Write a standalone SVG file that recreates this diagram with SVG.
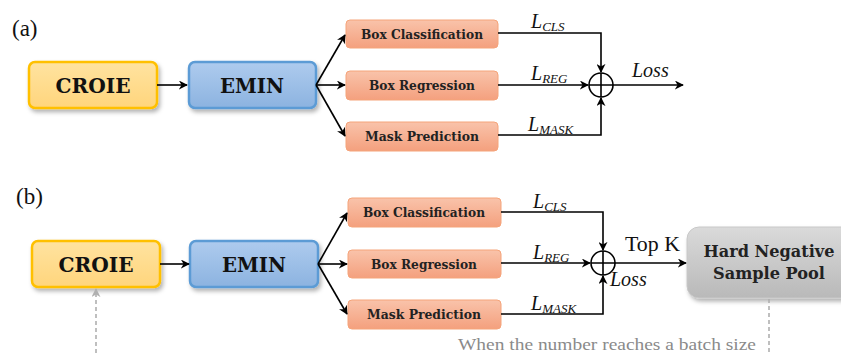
<svg xmlns="http://www.w3.org/2000/svg" width="841" height="353" viewBox="0 0 841 353">
<defs>
<linearGradient id="gY" x1="0" y1="0" x2="0" y2="1"><stop offset="0" stop-color="#FFE3A0"/><stop offset="1" stop-color="#FFD57C"/></linearGradient>
<linearGradient id="gB" x1="0" y1="0" x2="0" y2="1"><stop offset="0" stop-color="#AECBEE"/><stop offset="1" stop-color="#8CB3E0"/></linearGradient>
<linearGradient id="gO" x1="0" y1="0" x2="0" y2="1"><stop offset="0" stop-color="#F9C3AA"/><stop offset="1" stop-color="#F4A07E"/></linearGradient>
<linearGradient id="gG" x1="0" y1="0" x2="0" y2="1"><stop offset="0" stop-color="#DADADA"/><stop offset="1" stop-color="#B9B9B9"/></linearGradient>
<filter id="sh" x="-10%" y="-20%" width="130%" height="150%"><feDropShadow dx="2" dy="3" stdDeviation="2" flood-color="#000" flood-opacity="0.3"/></filter>
<marker id="ar" viewBox="0 0 10 10" refX="9" refY="5" markerWidth="9" markerHeight="9" markerUnits="userSpaceOnUse" orient="auto"><path d="M0,0 L10,5 L0,10 L3,5 Z" fill="#000"/></marker>
<marker id="arG" viewBox="0 0 10 10" refX="9" refY="5" markerWidth="9" markerHeight="9" markerUnits="userSpaceOnUse" orient="auto"><path d="M0,0 L10,5 L0,10 L3,5 Z" fill="#B0B0B0"/></marker>
</defs>
<style>
text{font-family:'Liberation Serif','DejaVu Serif',serif}
.big{font-family:'DejaVu Serif','Liberation Serif',serif;font-weight:bold;font-size:21px;fill:#111;text-anchor:middle}
.sm{font-family:'DejaVu Serif','Liberation Serif',serif;font-weight:bold;font-size:13px;fill:#222;text-anchor:middle}
.lbl{font-size:23px;fill:#111}
.it{font-style:italic;font-size:20px;fill:#111}
.sub{font-size:13px}
.rm{font-size:20px;fill:#111}
.gray{font-size:17px;fill:#8A8A8A}
.ln{fill:none;stroke:#000;stroke-width:1.6}
.dash{fill:none;stroke:#B0B0B0;stroke-width:1.6;stroke-dasharray:4 3}
.yel{fill:url(#gY);stroke:#FFC000;stroke-width:2.5}
.blu{fill:url(#gB);stroke:#5B9BD5;stroke-width:2.5}
.org{fill:url(#gO);stroke:#F5A47A;stroke-width:1}
.gry{fill:url(#gG);stroke:#C8C8C8;stroke-width:1}
</style>

<text class="lbl" x="12" y="36">(a)</text>
<text class="lbl" x="16" y="204">(b)</text>

<g id="a-croie"><rect class="yel" x="29" y="62" width="128" height="46" rx="6" filter="url(#sh)"/><text class="big" x="93" y="93" textLength="75" lengthAdjust="spacingAndGlyphs">CROIE</text></g>
<g id="a-emin"><rect class="blu" x="189" y="62" width="127" height="46" rx="6" filter="url(#sh)"/><text class="big" x="252" y="93" textLength="64" lengthAdjust="spacingAndGlyphs">EMIN</text></g>
<g id="a-cls"><rect class="org" x="346" y="20" width="152" height="28" rx="4"/><text class="sm" x="422" y="39" textLength="122" lengthAdjust="spacingAndGlyphs">Box Classification</text></g>
<g id="a-reg"><rect class="org" x="346" y="71" width="152" height="29" rx="4"/><text class="sm" x="422" y="90" textLength="106" lengthAdjust="spacingAndGlyphs">Box Regression</text></g>
<g id="a-mask"><rect class="org" x="346" y="122" width="152" height="29" rx="4"/><text class="sm" x="422" y="141" textLength="114" lengthAdjust="spacingAndGlyphs">Mask Prediction</text></g>
<g id="a-sum"><circle cx="601" cy="85" r="12" fill="none" stroke="#000" stroke-width="1.6"/><path class="ln" d="M589,85 H613 M601,73 V97"/></g>

<g id="b-croie"><rect class="yel" x="32" y="241" width="128" height="46" rx="6" filter="url(#sh)"/><text class="big" x="96" y="272" textLength="75" lengthAdjust="spacingAndGlyphs">CROIE</text></g>
<g id="b-emin"><rect class="blu" x="190" y="241" width="128" height="46" rx="6" filter="url(#sh)"/><text class="big" x="254" y="272" textLength="64" lengthAdjust="spacingAndGlyphs">EMIN</text></g>
<g id="b-cls"><rect class="org" x="348" y="198" width="153" height="29" rx="4"/><text class="sm" x="424" y="217" textLength="122" lengthAdjust="spacingAndGlyphs">Box Classification</text></g>
<g id="b-reg"><rect class="org" x="348" y="250" width="153" height="28" rx="4"/><text class="sm" x="424" y="269" textLength="106" lengthAdjust="spacingAndGlyphs">Box Regression</text></g>
<g id="b-mask"><rect class="org" x="348" y="300" width="153" height="29" rx="4"/><text class="sm" x="424" y="319" textLength="114" lengthAdjust="spacingAndGlyphs">Mask Prediction</text></g>
<g id="b-sum"><circle cx="603" cy="263" r="12" fill="none" stroke="#000" stroke-width="1.6"/><path class="ln" d="M591,263 H615 M603,251 V275"/></g>
<g id="b-pool"><rect class="gry" x="687" y="227" width="170" height="71" rx="12" filter="url(#sh)"/><text class="sm" style="font-size:16px" x="769" y="257" textLength="131" lengthAdjust="spacingAndGlyphs">Hard Negative</text><text class="sm" style="font-size:16px" x="769" y="279" textLength="112" lengthAdjust="spacingAndGlyphs">Sample Pool</text></g>

<g id="connectors">
<path class="ln" d="M157,85 H187" marker-end="url(#ar)"/>
<path class="ln" d="M316,85 L345,35" marker-end="url(#ar)"/>
<path class="ln" d="M316,85 H345" marker-end="url(#ar)"/>
<path class="ln" d="M316,85 L345,136" marker-end="url(#ar)"/>
<path class="ln" d="M498,33 H601 V72" marker-end="url(#ar)"/>
<path class="ln" d="M498,85 H588" marker-end="url(#ar)"/>
<path class="ln" d="M498,135 H601 V98" marker-end="url(#ar)"/>
<path class="ln" d="M613,85 H683" marker-end="url(#ar)"/>

<path class="ln" d="M160,264 H189" marker-end="url(#ar)"/>
<path class="ln" d="M318,264 L347,213" marker-end="url(#ar)"/>
<path class="ln" d="M318,264 H347" marker-end="url(#ar)"/>
<path class="ln" d="M318,264 L347,314" marker-end="url(#ar)"/>
<path class="ln" d="M501,212 H603 V250" marker-end="url(#ar)"/>
<path class="ln" d="M501,263 H590" marker-end="url(#ar)"/>
<path class="ln" d="M501,314 H603 V276" marker-end="url(#ar)"/>
<path class="ln" d="M615,263 H686" marker-end="url(#ar)"/>
<path class="dash" d="M769,299 V353"/>
<path class="dash" d="M96,353 V289" marker-end="url(#arG)"/>
</g>

<text class="it" x="531" y="28">L<tspan class="sub" dy="3">CLS</tspan></text>
<text class="it" x="531" y="80">L<tspan class="sub" dy="3">REG</tspan></text>
<text class="it" x="528" y="131">L<tspan class="sub" dy="3">MASK</tspan></text>
<text class="it" x="632" y="77">Loss</text>

<text class="it" x="533" y="208">L<tspan class="sub" dy="3">CLS</tspan></text>
<text class="it" x="533" y="259">L<tspan class="sub" dy="3">REG</tspan></text>
<text class="it" x="531" y="310">L<tspan class="sub" dy="3">MASK</tspan></text>
<text class="it" x="610" y="286">Loss</text>
<text class="rm" x="625" y="251" textLength="55" lengthAdjust="spacingAndGlyphs">Top K</text>
<text class="gray" x="458" y="350" textLength="298" lengthAdjust="spacingAndGlyphs">When the number reaches a batch size</text>
</svg>
